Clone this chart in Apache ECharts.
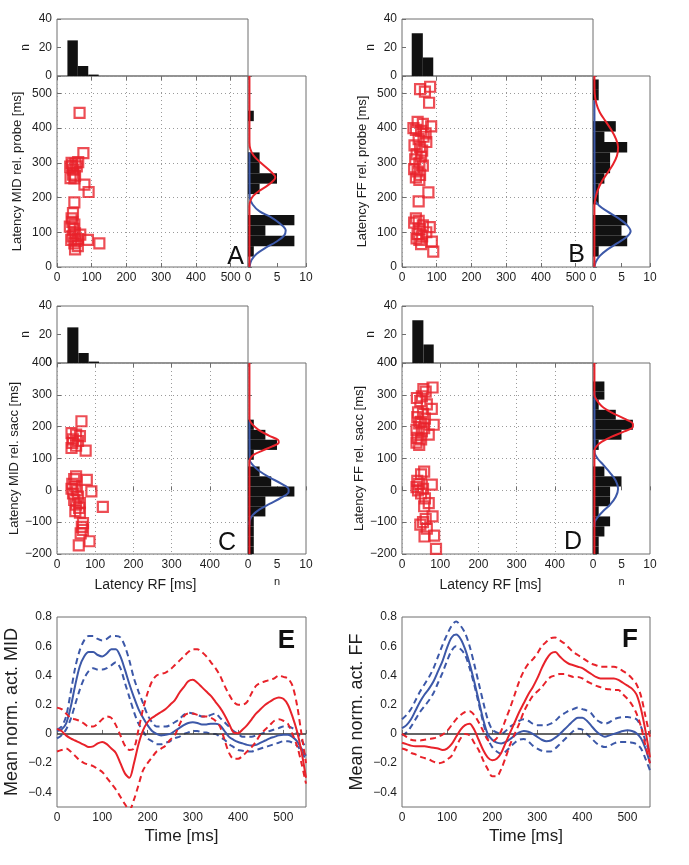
<!DOCTYPE html>
<html><head><meta charset="utf-8">
<script src="https://cdn.jsdelivr.net/npm/echarts@6.0.0/dist/echarts.min.js"></script>
<style>html,body{margin:0;padding:0;background:#fff}#c{width:689px;height:865px}</style>
</head><body><div id="c"></div>
<script>
// ---------- DATA ----------
// scatter: [latency RF, latency other]
const A_pts=[[65,444],[76,328],[61,302],[53,298],[38,289],[47,280],[44,293],[46,266],[39,256],[52,262],[79,237],[91,216],[50,186],[46,155],[42,140],[37,116],[50,122],[44,130],[52,97],[67,93],[41,78],[50,68],[52,51],[89,78],[122,68],[61,80],[45,88],[55,75],[60,60],[48,110],[42,300],[57,290],[50,255]];
const B_pts=[[52,512],[81,519],[66,505],[78,473],[45,418],[60,412],[84,405],[33,400],[40,395],[55,392],[68,385],[62,375],[48,368],[70,360],[36,350],[52,345],[58,335],[42,325],[55,318],[38,310],[50,300],[60,292],[35,282],[45,275],[52,265],[40,258],[50,251],[76,215],[48,189],[40,140],[48,133],[35,128],[60,120],[80,115],[50,110],[70,100],[45,95],[58,88],[42,82],[50,78],[55,66],[86,73],[90,44]];
const C_pts=[[64,217],[38,180],[50,175],[60,170],[42,160],[55,155],[40,149],[50,140],[38,133],[75,125],[50,44],[45,35],[78,33],[40,20],[48,12],[38,5],[52,0],[90,-3],[42,-10],[55,-20],[45,-30],[60,-40],[50,-45],[58,-55],[120,-52],[48,-65],[60,-70],[68,-103],[65,-115],[68,-124],[85,-160],[57,-173],[62,-135]];
const D_pts=[[80,323],[56,318],[62,310],[39,290],[52,295],[48,280],[65,270],[78,256],[42,245],[55,240],[40,230],[60,225],[50,215],[83,206],[45,210],[58,195],[38,190],[52,185],[70,175],[40,165],[50,160],[38,150],[45,143],[58,59],[50,50],[40,30],[78,18],[45,20],[38,10],[55,5],[42,0],[50,-10],[60,-25],[70,-40],[58,-50],[80,-82],[62,-90],[48,-108],[55,-100],[59,-145],[84,-142],[89,-184],[65,-120]];
// top histograms: [bin start, bin end, n]
const A_top=[[30,60,25],[60,90,7],[90,120,1]];
const B_top=[[28,60,30],[60,90,13]];
const C_top=[[27,56,25],[56,83,7],[83,110,1]];
const D_top=[[27,56,30],[56,83,13]];
// right histograms: [bin start, bin end, n]
const A_right=[[420,450,1],[300,330,2],[270,300,2],[240,270,5],[210,240,2],[120,150,8],[90,120,3],[60,90,8],[30,60,1]];
const B_right=[[510,540,1],[480,510,1],[390,420,4],[360,390,2],[330,360,6],[300,330,3],[270,300,3],[240,270,2],[210,240,1],[180,210,1],[120,150,6],[90,120,5],[60,90,6],[30,60,1]];
const C_right=[[190,222,1],[159,190,3],[127,159,5],[96,127,1],[44,75,2],[12,44,4],[-19,12,8],[-50,-19,3],[-82,-50,3],[-113,-82,1],[-145,-113,1],[-176,-145,1],[-200,-176,1]];
const D_right=[[311,342,2],[285,311,2],[253,285,1],[222,253,4],[190,222,7],[159,190,5],[127,159,1],[44,75,2],[12,44,5],[-19,12,3],[-50,-19,3],[-82,-50,1],[-113,-82,3],[-145,-113,2],[-176,-145,1],[-200,-176,1]];
// fitted curves on right histograms: [n, latency]
const A_red=[[0.25,550],[0.25,360],[0.4,340],[1.0,320],[2.2,300],[3.6,280],[4.6,263],[4.7,257],[4.4,249],[3.4,235],[2.0,220],[0.9,205],[0.4,190],[0.25,175],[0.25,0]];
const A_blue=[[0.25,330],[0.3,200],[0.8,180],[2.0,160],[3.8,145],[5.5,125],[6.5,105],[6.2,90],[4.8,72],[3.0,55],[1.5,38],[0.6,20],[0.25,0]];
const B_red=[[0.25,550],[0.3,500],[0.6,470],[1.2,445],[2.2,420],[3.2,395],[4.0,370],[4.4,345],[4.2,320],[3.5,295],[2.5,270],[1.5,245],[0.8,220],[0.4,195],[0.25,175],[0.25,0]];
const B_blue=[[0.25,480],[0.3,195],[1.0,178],[2.5,160],[4.5,140],[6.0,120],[6.6,103],[6.0,88],[4.2,68],[2.5,50],[1.2,32],[0.5,15],[0.25,0]];
const C_red=[[0.25,400],[0.25,225],[0.6,210],[1.8,190],[3.6,172],[5.2,158],[5.3,150],[4.2,138],[2.5,125],[1.0,112],[0.4,100],[0.25,90],[0.25,-200]];
const C_blue=[[0.25,220],[0.3,95],[0.8,80],[2.0,60],[3.8,40],[5.8,20],[7.0,3],[7.0,-5],[5.8,-22],[3.8,-42],[2.0,-60],[0.8,-78],[0.3,-95],[0.25,-110]];
const D_red=[[0.25,400],[0.25,300],[0.6,285],[1.5,265],[3.2,245],[5.5,225],[7.0,208],[7.0,200],[5.5,185],[3.2,168],[1.5,152],[0.6,138],[0.25,125],[0.25,-200]];
const D_blue=[[0.25,310],[0.3,118],[0.8,100],[1.8,80],[3.0,55],[4.0,30],[4.4,5],[4.0,-20],[3.0,-45],[1.8,-65],[0.8,-85],[0.3,-100],[0.25,-115]];
// time courses
const T=[0,10,20,30,40,50,60,70,80,90,100,110,120,130,140,150,160,170,180,190,200,210,220,230,240,250,260,270,280,290,300,310,320,330,340,350,360,370,380,390,400,410,420,430,440,450,460,470,480,490,500,510,520,530,540,550];
const E_blueMean=[0.02,0.03,0.07,0.18,0.33,0.46,0.53,0.56,0.56,0.54,0.53,0.55,0.58,0.58,0.53,0.44,0.34,0.25,0.17,0.11,0.06,0.02,0.0,-0.01,-0.005,0.0,0.02,0.04,0.06,0.075,0.08,0.075,0.065,0.065,0.07,0.07,0.06,0.02,-0.02,-0.04,-0.055,-0.065,-0.075,-0.08,-0.075,-0.06,-0.045,-0.03,-0.02,-0.01,-0.005,-0.005,-0.02,-0.05,-0.1,-0.15];
const E_blueUp=[0.03,0.05,0.12,0.28,0.45,0.57,0.64,0.67,0.67,0.65,0.64,0.65,0.67,0.67,0.66,0.6,0.5,0.38,0.29,0.21,0.13,0.08,0.05,0.05,0.05,0.06,0.08,0.1,0.13,0.145,0.14,0.13,0.12,0.12,0.13,0.14,0.11,0.08,0.05,0.02,0.0,-0.02,-0.02,-0.02,-0.01,0.0,0.01,0.02,0.03,0.04,0.05,0.05,0.04,0.01,-0.04,-0.1];
const E_blueLo=[-0.03,-0.01,0.03,0.1,0.2,0.3,0.38,0.43,0.45,0.44,0.44,0.45,0.47,0.49,0.45,0.35,0.25,0.15,0.07,0.02,-0.03,-0.05,-0.07,-0.07,-0.06,-0.05,-0.03,-0.02,0.0,0.01,0.02,0.02,0.01,0.01,0.0,0.0,-0.02,-0.04,-0.07,-0.09,-0.11,-0.115,-0.12,-0.12,-0.11,-0.1,-0.09,-0.08,-0.07,-0.06,-0.05,-0.05,-0.06,-0.08,-0.12,-0.18];
const E_redMean=[0.035,0.02,-0.01,-0.03,-0.045,-0.06,-0.075,-0.09,-0.085,-0.065,-0.055,-0.07,-0.1,-0.13,-0.2,-0.27,-0.3,-0.2,-0.07,0.025,0.08,0.11,0.13,0.15,0.17,0.2,0.23,0.28,0.32,0.36,0.37,0.35,0.32,0.29,0.26,0.22,0.18,0.13,0.07,0.01,0.005,0.03,0.06,0.1,0.14,0.17,0.2,0.22,0.24,0.25,0.24,0.2,0.12,0.02,-0.12,-0.3];
const E_redUp=[0.18,0.17,0.14,0.11,0.1,0.09,0.07,0.05,0.05,0.07,0.1,0.12,0.11,0.06,-0.01,-0.08,-0.11,-0.1,0.03,0.17,0.28,0.36,0.4,0.41,0.42,0.44,0.47,0.5,0.53,0.56,0.58,0.58,0.56,0.53,0.49,0.45,0.4,0.33,0.27,0.22,0.2,0.2,0.22,0.28,0.33,0.35,0.36,0.37,0.38,0.4,0.39,0.38,0.33,0.2,0.0,-0.2];
const E_redLo=[-0.12,-0.11,-0.1,-0.12,-0.15,-0.18,-0.2,-0.21,-0.22,-0.24,-0.26,-0.3,-0.34,-0.38,-0.43,-0.48,-0.52,-0.45,-0.35,-0.25,-0.2,-0.16,-0.12,-0.1,-0.08,-0.04,-0.01,0.06,0.12,0.14,0.14,0.13,0.12,0.12,0.11,0.09,0.05,-0.04,-0.13,-0.17,-0.17,-0.15,-0.12,-0.09,-0.05,0.0,0.03,0.06,0.09,0.1,0.09,0.07,0.0,-0.08,-0.2,-0.34];
const F_blueMean=[0.04,0.06,0.1,0.16,0.22,0.27,0.31,0.36,0.43,0.5,0.59,0.66,0.68,0.65,0.58,0.48,0.36,0.23,0.1,0.0,-0.04,-0.06,-0.065,-0.055,-0.035,-0.01,0.01,0.02,0.015,0.0,-0.02,-0.04,-0.05,-0.045,-0.025,0.0,0.03,0.06,0.09,0.11,0.11,0.09,0.055,0.02,-0.005,-0.02,-0.01,0.0,0.01,0.02,0.025,0.02,0.005,-0.03,-0.1,-0.2];
const F_blueUp=[0.1,0.13,0.17,0.23,0.29,0.34,0.39,0.45,0.53,0.61,0.68,0.74,0.77,0.74,0.69,0.6,0.48,0.35,0.22,0.1,0.03,0.01,0.0,0.02,0.05,0.07,0.09,0.1,0.09,0.07,0.06,0.06,0.06,0.07,0.09,0.12,0.14,0.16,0.17,0.18,0.17,0.16,0.14,0.1,0.08,0.07,0.08,0.1,0.11,0.115,0.115,0.11,0.1,0.05,-0.05,-0.13];
const F_blueLo=[-0.01,0.01,0.05,0.1,0.15,0.19,0.23,0.28,0.35,0.42,0.5,0.57,0.6,0.58,0.54,0.45,0.34,0.21,0.08,-0.03,-0.09,-0.12,-0.135,-0.12,-0.09,-0.06,-0.04,-0.035,-0.05,-0.08,-0.1,-0.115,-0.12,-0.12,-0.1,-0.07,-0.04,-0.01,0.02,0.035,0.03,0.0,-0.03,-0.06,-0.08,-0.09,-0.08,-0.065,-0.055,-0.055,-0.055,-0.06,-0.07,-0.1,-0.17,-0.25];
const F_redMean=[-0.06,-0.07,-0.08,-0.085,-0.085,-0.085,-0.09,-0.095,-0.1,-0.11,-0.1,-0.07,-0.02,0.03,0.06,0.07,0.03,-0.04,-0.11,-0.16,-0.18,-0.17,-0.13,-0.06,0.01,0.08,0.15,0.21,0.27,0.32,0.38,0.45,0.51,0.55,0.56,0.53,0.5,0.48,0.47,0.46,0.45,0.43,0.41,0.39,0.38,0.38,0.38,0.38,0.37,0.35,0.33,0.31,0.27,0.17,0.02,-0.16];
const F_redUp=[0.0,-0.02,-0.04,-0.045,-0.045,-0.04,-0.035,-0.03,-0.02,-0.005,0.02,0.06,0.1,0.13,0.15,0.155,0.13,0.08,0.02,-0.04,-0.05,-0.03,0.02,0.1,0.18,0.27,0.36,0.43,0.48,0.51,0.55,0.6,0.63,0.655,0.66,0.64,0.62,0.59,0.56,0.54,0.52,0.5,0.48,0.47,0.46,0.46,0.46,0.46,0.45,0.43,0.41,0.38,0.34,0.26,0.12,-0.02];
const F_redLo=[-0.1,-0.11,-0.13,-0.14,-0.155,-0.165,-0.175,-0.19,-0.2,-0.195,-0.175,-0.15,-0.09,-0.03,0.0,-0.01,-0.06,-0.11,-0.18,-0.24,-0.29,-0.29,-0.24,-0.16,-0.07,0.0,0.07,0.15,0.21,0.26,0.29,0.32,0.36,0.39,0.4,0.41,0.41,0.4,0.39,0.39,0.38,0.36,0.345,0.33,0.32,0.31,0.305,0.3,0.3,0.27,0.24,0.2,0.14,0.05,-0.08,-0.2];

// ---------- STYLE / LAYOUT ----------
const FONT='"Liberation Sans", Arial, sans-serif';
const RED='#e8222a', BLUE='#3c58a8', BORDER='#6e6e6e', TXT='#1e1e1e', BAR='#111111';
const minus = v => String(v).replace('-', '\u2212');
const lbl = (extra) => Object.assign({color:TXT, fontSize:12, fontFamily:FONT, margin:5}, extra||{});
const tick = {show:true, inside:true, length:4, lineStyle:{color:BORDER}};
const dotted = {show:true, lineStyle:{color:'#9a9a9a', type:[1,3], width:1}};

const panels=[
  {letter:'A', left:57, top:19, rw:58, xMax:550, yMin:0, yMax:550, yName:'Latency MID rel. probe [ms]', xName:false, pts:A_pts, top_:A_top, right:A_right, red:A_red, blue:A_blue, lx:244, ly:257},
  {letter:'B', left:402, top:19, rw:57, xMax:550, yMin:0, yMax:550, yName:'Latency FF rel. probe [ms]', xName:false, pts:B_pts, top_:B_top, right:B_right, red:B_red, blue:B_blue, lx:585, ly:255},
  {letter:'C', left:57, top:306, rw:58, xMax:500, yMin:-200, yMax:400, yName:'Latency MID rel. sacc [ms]', xName:true, pts:C_pts, top_:C_top, right:C_right, red:C_red, blue:C_blue, lx:236, ly:543},
  {letter:'D', left:402, top:306, rw:57, xMax:500, yMin:-200, yMax:400, yName:'Latency FF rel. sacc [ms]', xName:true, pts:D_pts, top_:D_top, right:D_right, red:D_red, blue:D_blue, lx:582, ly:542}
];

const grids=[], xAxes=[], yAxes=[], series=[], graphics=[];
function addGrid(g){ grids.push(Object.assign({show:true, borderColor:BORDER, borderWidth:1, backgroundColor:'rgba(0,0,0,0)'}, g)); return grids.length-1; }
function addX(a){ xAxes.push(Object.assign({type:'value', axisLine:{show:false}, axisTick:tick, splitLine:{show:false}}, a)); return xAxes.length-1; }
function addY(a){ yAxes.push(Object.assign({type:'value', axisLine:{show:false}, axisTick:tick, splitLine:{show:false}}, a)); return yAxes.length-1; }

const W=191, HT=57, HM=191;
panels.forEach(p=>{
  const gT=addGrid({left:p.left, top:p.top, width:W, height:HT});
  const gM=addGrid({left:p.left, top:p.top+HT, width:W, height:HM});
  const gR=addGrid({left:p.left+W, top:p.top+HT, width:p.rw, height:HM});
  const hund = v => (Math.abs(v%100)<1e-9 ? minus(v) : '');
  const hundX = v => (Math.abs(v%100)<1e-9 && v<p.xMax ? minus(v) : '');
  // top histogram axes
  const xT=addX({gridIndex:gT, min:0, max:p.xMax, interval:100, position:'top', axisLabel:{show:false}});
  const yT=addY({gridIndex:gT, min:0, max:40, interval:20, axisLabel:lbl(),
    name:'n', nameLocation:'middle', nameRotate:90, nameGap:25, nameTextStyle:{color:TXT, fontSize:12, fontFamily:FONT}});
  // main scatter axes
  const xM=addX({gridIndex:gM, min:0, max:p.xMax, interval:100, axisLabel:lbl({formatter:hundX}), splitLine:dotted,
    name:p.xName?'Latency RF [ms]':'', nameLocation:'middle', nameGap:24,
    nameTextStyle:{color:TXT, fontSize:14, fontFamily:FONT, padding:[0,14,0,0]}});
  const yM=addY({gridIndex:gM, min:p.yMin, max:p.yMax, interval:100, axisLabel:lbl({formatter:hund}), splitLine:dotted,
    name:p.yName, nameLocation:'middle', nameRotate:90, nameGap:33, nameTextStyle:{color:TXT, fontSize:13, fontFamily:FONT}});
  // right histogram axes
  const xR=addX({gridIndex:gR, min:0, max:10, interval:5, axisLabel:lbl(),
    name:p.xName?'n':'', nameLocation:'middle', nameGap:22, nameTextStyle:{color:TXT, fontSize:11, fontFamily:FONT}});
  const yR=addY({gridIndex:gR, min:p.yMin, max:p.yMax, interval:100, axisLabel:{show:false}});

  series.push({type:'custom', xAxisIndex:xT, yAxisIndex:yT, data:p.top_, encode:{x:[0,1], y:2},
    renderItem:(params, api)=>{
      const a=api.coord([api.value(0), api.value(2)]), b=api.coord([api.value(1), 0]);
      return {type:'rect', shape:{x:a[0], y:a[1], width:b[0]-a[0], height:b[1]-a[1]}, style:{fill:BAR}};
    }});
  series.push({type:'custom', xAxisIndex:xR, yAxisIndex:yR, data:p.right, encode:{x:2, y:[0,1]},
    renderItem:(params, api)=>{
      const a=api.coord([0, api.value(1)]), b=api.coord([api.value(2), api.value(0)]);
      return {type:'rect', shape:{x:a[0], y:a[1], width:b[0]-a[0], height:b[1]-a[1]}, style:{fill:BAR}};
    }});
  series.push({type:'line', xAxisIndex:xR, yAxisIndex:yR, data:p.blue, smooth:0.35, showSymbol:false, symbol:'none',
    lineStyle:{color:BLUE, width:2}, z:3});
  series.push({type:'line', xAxisIndex:xR, yAxisIndex:yR, data:p.red, smooth:0.35, showSymbol:false, symbol:'none',
    lineStyle:{color:RED, width:2}, z:4});
  series.push({type:'scatter', xAxisIndex:xM, yAxisIndex:yM, data:p.pts, symbol:'rect', symbolSize:10,
    itemStyle:{color:'rgba(255,255,255,0)', borderColor:RED, borderWidth:2.2}, z:3});
  graphics.push({type:'text', x:p.lx, y:p.ly, style:{text:p.letter, font:'25px '+FONT, fill:'#111', align:'right', verticalAlign:'middle'}, z:100});
});

// time-course panels
const tp=[
  {letter:'E', left:57, width:249, yName:'Mean norm. act. MID', s:[E_blueUp,E_blueLo,E_blueMean,E_redUp,E_redLo,E_redMean], lx:295, ly:641},
  {letter:'F', left:402, width:248, yName:'Mean norm. act. FF', s:[F_blueUp,F_blueLo,F_blueMean,F_redUp,F_redLo,F_redMean], lx:638, ly:640}
];
tp.forEach(p=>{
  const g=addGrid({left:p.left, top:617, width:p.width, height:190});
  const xi=addX({gridIndex:g, min:0, max:550, interval:100,
    axisLabel:lbl({formatter:v=>(v%100===0?String(v):'')}),
    name:'Time [ms]', nameLocation:'middle', nameGap:21, nameTextStyle:{color:TXT, fontSize:17, fontFamily:FONT}});
  const yi=addY({gridIndex:g, min:-0.5, max:0.8, interval:0.1, axisTick:{show:false},
    axisLabel:lbl({formatter:v=>{const r=Math.round(v*10); return (r%2!==0)?'':minus(r/10);}}),
    name:p.yName, nameLocation:'middle', nameRotate:90, nameGap:36, nameTextStyle:{color:TXT, fontSize:18, fontFamily:FONT}});
  const cols=[BLUE,BLUE,BLUE,RED,RED,RED];
  p.s.forEach((arr,k)=>{
    const dashed = (k%3)!==2;
    const s={type:'line', xAxisIndex:xi, yAxisIndex:yi, data:T.map((t,i)=>[t,arr[i]]), smooth:0.3,
      showSymbol:false, symbol:'none', z:3+k,
      lineStyle:{color:cols[k], width:2, type: dashed?[6,4]:'solid'}};
    if(k===0){
      s.markLine={symbol:'none', silent:true, label:{show:false}, animation:false,
        lineStyle:{color:'#333', width:1.5, type:'solid'}, data:[{yAxis:0}]};
    }
    series.push(s);
  });
  graphics.push({type:'text', x:p.lx, y:p.ly, style:{text:p.letter, font:'bold 26px '+FONT, fill:'#111', align:'right', verticalAlign:'middle'}, z:100});
});

const chart=echarts.init(document.getElementById('c'), null, {renderer:'canvas'});
chart.setOption({animation:false, backgroundColor:'#fff', grid:grids, xAxis:xAxes, yAxis:yAxes, series:series, graphic:graphics});
</script></body></html>
